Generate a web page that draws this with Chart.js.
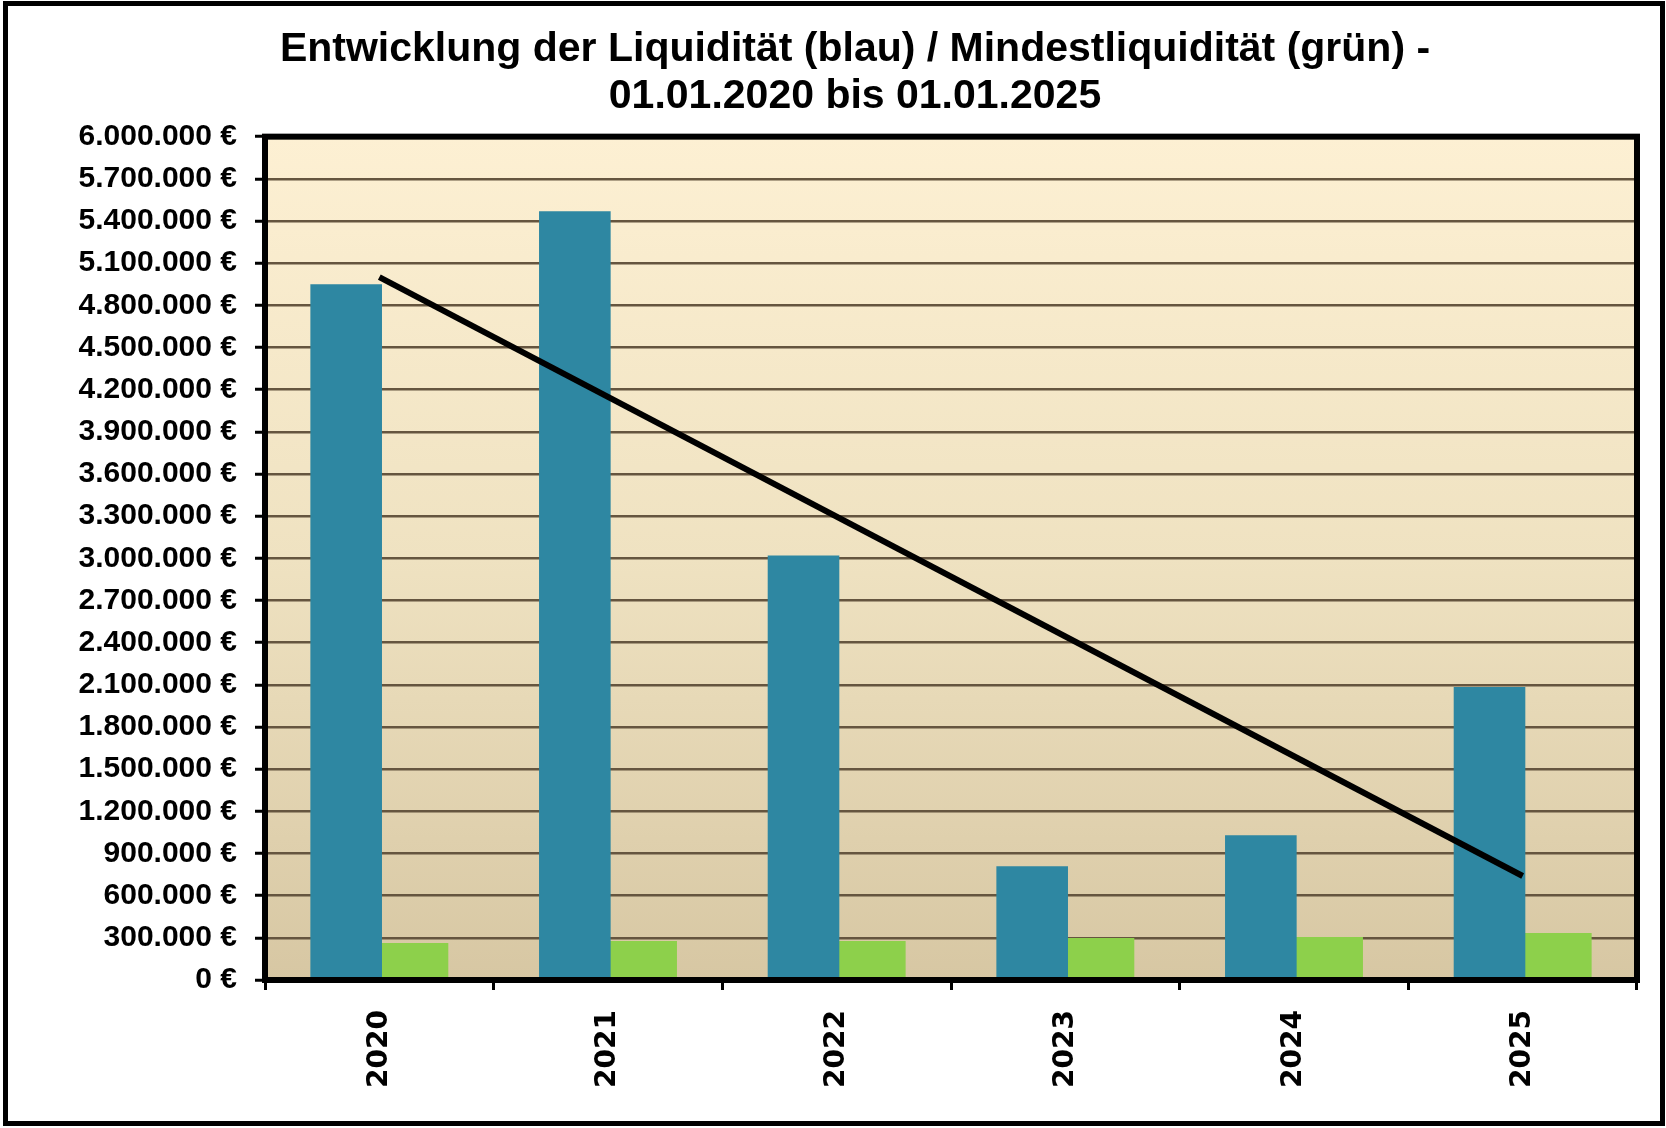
<!DOCTYPE html>
<html lang="de">
<head>
<meta charset="utf-8">
<title>Entwicklung der Liquidität</title>
<script src="https://cdn.jsdelivr.net/npm/chart.js@4.4.1/dist/chart.umd.min.js"></script>
<style>
  html, body { margin: 0; padding: 0; background: #fff; }
  canvas { display: block; }
</style>
</head>
<body>
<canvas id="liquiChart" width="1666" height="1128"></canvas>
<script>
// Data
const years = ['2020', '2021', '2022', '2023', '2024', '2025'];
const liquiditaet = [4950000, 5470000, 3020000, 810000, 1030000, 2085000];
const mindestLiquiditaet = [263000, 278000, 278000, 299000, 306000, 335000];
const trendYears = ['2020', '2025'];
const trendValues = [5000000, 740000];

const yMax = 6000000;
const yStep = 300000;

const euro = v => String(v).replace(/\B(?=(\d{3})+(?!\d))/g, '.') + ' €';

// plot area background + frames
const plotDeco = {
    id: 'plotDeco',
    beforeDraw(chart) {
        const { ctx, chartArea: a } = chart;
        ctx.save();
        ctx.fillStyle = '#ffffff';
        ctx.fillRect(0, 0, chart.width, chart.height);
        const g = ctx.createLinearGradient(0, a.top, 0, a.bottom);
        g.addColorStop(0, '#fdf0d3');
        g.addColorStop(0.5, '#efe2c1');
        g.addColorStop(1, '#d7c7a3');
        ctx.fillStyle = g;
        ctx.fillRect(a.left, a.top, a.right - a.left, a.bottom - a.top);
        ctx.restore();
    },
    afterDraw(chart) {
        const { ctx, chartArea: a } = chart;
        ctx.save();
        ctx.strokeStyle = '#000';
        ctx.lineWidth = 6;
        ctx.strokeRect(a.left, a.top, a.right - a.left, a.bottom - a.top);
        ctx.lineWidth = 5;
        ctx.strokeRect(5.5, 3.5, chart.width - 9, chart.height - 8);
        ctx.restore();
    }
};

const ctx = document.getElementById('liquiChart').getContext('2d');
new Chart(ctx, {
    type: 'bar',
    data: {
        labels: years,
        datasets: [{
            type: 'line',
            label: 'Trend',
            data: trendYears.map((y, i) => ({ x: y, y: trendValues[i] })),
            borderColor: '#000',
            borderWidth: 6,
            pointRadius: 0,
            fill: false,
            order: -1
        }, {
            label: 'Liquidität',
            data: liquiditaet,
            backgroundColor: '#2e87a2',
            borderWidth: 0,
            categoryPercentage: 0.58,
            barPercentage: 1.08
        }, {
            label: 'Mindestliquidität',
            data: mindestLiquiditaet,
            backgroundColor: '#8dd04b',
            borderWidth: 0,
            categoryPercentage: 0.58,
            barPercentage: 1.08
        }]
    },
    options: {
        responsive: false,
        animation: false,
        layout: { padding: { top: 27, left: 73, right: 29, bottom: 0 } },
        plugins: {
            legend: { display: false },
            tooltip: { enabled: false },
            title: {
                display: true,
                text: ['Entwicklung der Liquidität (blau) / Mindestliquidität (grün) -', '01.01.2020 bis 01.01.2025'],
                color: '#000',
                font: { family: 'Liberation Sans, Arial, sans-serif', size: 41, weight: 'bold', lineHeight: 1.13 },
                padding: { top: 0, bottom: 17 }
            }
        },
        scales: {
            x: {
                grid: { drawOnChartArea: false, drawTicks: true, tickLength: 10, tickColor: '#000', tickWidth: 3 },
                border: { display: false },
                ticks: {
                    minRotation: 90,
                    maxRotation: 90,
                    padding: 20,
                    color: '#000',
                    font: { family: 'DejaVu Sans, Verdana, sans-serif', size: 28, weight: 'bold' }
                },
                afterFit(scale) { scale.height = 148; }
            },
            y: {
                min: 0,
                max: yMax,
                grid: { color: '#65553f', lineWidth: 2.5, tickLength: 10, tickColor: '#000', tickWidth: 3 },
                border: { display: false },
                ticks: {
                    stepSize: yStep,
                    padding: 18,
                    color: '#000',
                    font: { family: 'Liberation Sans, Arial, sans-serif', size: 30, weight: 'bold' },
                    callback: v => euro(v)
                },
                afterFit(scale) { scale.width = 192; }
            }
        }
    },
    plugins: [plotDeco]
});
</script>
</body>
</html>
